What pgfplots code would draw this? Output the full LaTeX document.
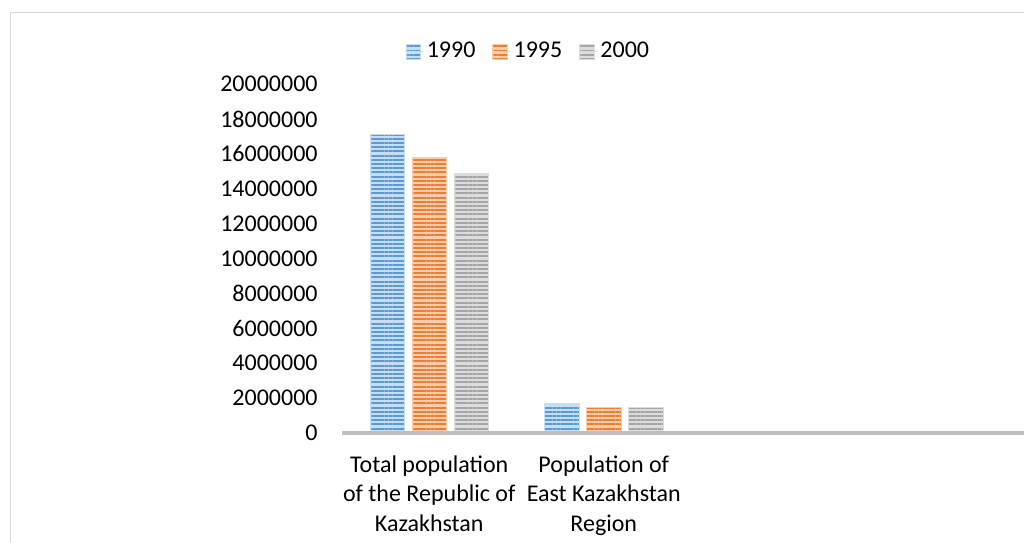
\documentclass[border=0pt]{standalone}
\usepackage{pgfplots}
\pgfplotsset{compat=1.18}
\usepackage{fontspec}
\setmainfont{Carlito}
\usetikzlibrary{patterns.meta}
\definecolor{cBlue}{HTML}{5B9BD5}
\definecolor{cOrange}{HTML}{ED7D31}
\definecolor{cGray}{HTML}{A5A5A5}
\definecolor{lBlue}{HTML}{C9DDF2}
\definecolor{lOrange}{HTML}{F9CCAE}
\definecolor{lGray}{HTML}{DCDCDC}
\definecolor{axGray}{HTML}{BFBFBF}
\definecolor{frameGray}{HTML}{D9D9D9}
\begin{document}
\begin{tikzpicture}
\begin{axis}[
  at={(0,0)}, anchor=south west,
  scale only axis,
  width=341pt, height=174.5pt,
  ybar=3.75pt, bar width=17.25pt,
  xmin=-0.5, xmax=3.408,
  ymin=0, ymax=20000000,
  ytick={0,2000000,...,20000000},
  scaled y ticks=false,
  yticklabel style={/pgf/number format/fixed, /pgf/number format/1000 sep={}, inner sep=0pt, xshift=-12pt},
  /pgf/number format/assume math mode=true,
  xtick={0,1}, 
  xticklabels={{Total population\\of the Republic of\\Kazakhstan},{Population of\\East Kazakhstan\\Region}},
  xticklabel style={align=center, inner sep=0pt, yshift=-11pt, font=\fontsize{12}{14.75}\selectfont},
  tick label style={font=\fontsize{12}{14.75}\selectfont, text=black},
  major tick length=0pt,
  axis line style={draw=none},
  axis x line*=bottom, axis y line*=left,
  y axis line style={draw=none},
  legend image code/.code={\path[#1] (0pt,-3.65pt) rectangle (7.3pt,3.65pt); \path (0pt,0pt) -- (8.8pt,0pt);},
  legend style={at={(0.274,1.093)}, anchor=center, legend columns=-1, draw=none, fill=none,
    font=\fontsize{12}{13}\selectfont, inner sep=0pt,
    /tikz/every even column/.append style={column sep=7pt},
    nodes={inner sep=1.5pt}},
  clip=false,
]
\addplot[draw=lBlue, line width=0.3pt, fill=lBlue, postaction={pattern={Lines[angle=0,distance=2.1pt,line width=1.05pt]}, pattern color=cBlue}] coordinates {(0,17100000) (1,1700000)};
\addplot[draw=lOrange, line width=0.3pt, fill=lOrange, postaction={pattern={Lines[angle=0,distance=2.1pt,line width=1.05pt]}, pattern color=cOrange}] coordinates {(0,15780000) (1,1490000)};
\addplot[draw=lGray, line width=0.3pt, fill=lGray, postaction={pattern={Lines[angle=0,distance=2.1pt,line width=1.05pt]}, pattern color=cGray}] coordinates {(0,14880000) (1,1490000)};
\legend{1990,1995,2000}
\draw[axGray, line width=1.6pt] (axis cs:-0.5,0) -- (axis cs:3.6,0);
\end{axis}
\draw[frameGray, line width=0.75pt] (-165.75pt,-70pt) -- (-165.75pt,210.25pt) -- (360pt,210.25pt);
\pgfresetboundingbox
\path[use as bounding box] (-171pt,-54.5pt) rectangle (341pt,216.5pt);
\end{tikzpicture}
\end{document}
